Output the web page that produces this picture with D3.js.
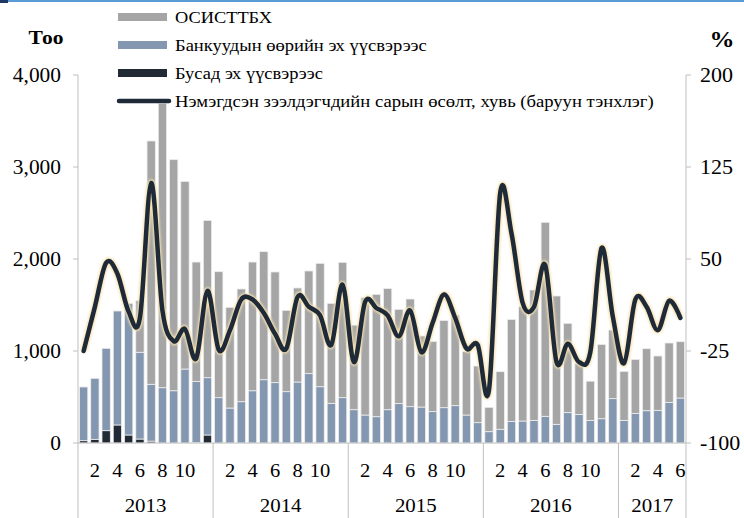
<!DOCTYPE html>
<html>
<head>
<meta charset="utf-8">
<script src="https://cdn.jsdelivr.net/npm/d3@7"></script>
<style>
  body { margin: 0; background: #fff; }
  svg { display: block; }
</style>
</head>
<body>
<div id="chart"></div>
<script>
// categories
const years = ["2013", "2014", "2015", "2016", "2017"];
const monthsPerYear = [12, 12, 12, 12, 6];

// bar totals (top of the stack), top of the blue part, and the dark part
const totalTop = [
  609, 703, 1029, 1435, 1518, 1547, 3283, 3692, 3080, 2844, 1967, 2420,
  1862, 1475, 1674, 1967, 2080, 1859, 1442, 1685, 1870, 1953, 1518, 1964,
  1281, 1580, 1616, 1680, 1453, 1565, 1163, 1105, 1332, 1391, 993, 837,
  388, 775, 1344, 1482, 1663, 2399, 1598, 1301, 866, 672, 1072, 1228,
  779, 909, 1025, 946, 1087, 1101
];
const blueTop = [
  609, 703, 1029, 1435, 1518, 986, 638, 601, 568, 804, 670, 710,
  493, 380, 449, 568, 688, 656, 558, 663, 754, 612, 431, 493,
  362, 304, 286, 362, 428, 395, 391, 341, 384, 406, 304, 221,
  123, 149, 235, 239, 246, 290, 203, 330, 310, 246, 264, 482,
  246, 322, 351, 355, 442, 489
];
const other = [
  25, 40, 134, 196, 87, 43, 20, 0, 0, 0, 5, 87,
  0, 0, 0, 0, 0, 0, 0, 0, 0, 0, 0, 0,
  0, 0, 0, 0, 0, 0, 0, 0, 0, 0, 0, 0,
  0, 0, 0, 0, 0, 0, 0, 0, 0, 0, 0, 0,
  0, 0, 0, 0, 0, 0
];
// monthly growth of new borrowers, % (right axis)
const growth = [
  -25, 11, 47, 38, 7, 2, 112, 8, -17, -7, -31, 24,
  -24, -8, 17, 17, 6, -11, -23, 19, 11, 4, -20, 29,
  -34, 15, 10, 4, -13, 8, -26, -2, 21, 2, -23, -20,
  -57, 104, 71, 14, 11, 45, -34, -19, -34, -26, 59, 3,
  -35, 17, 11, -8, 16, 2
];

const leftTicks = [0, 1000, 2000, 3000, 4000];
const rightTicks = [-100, -25, 50, 125, 200];
const monthTicks = [2, 4, 6, 8, 10];
const legendLabels = [
  "ОСИСТТБХ",
  "Банкуудын өөрийн эх үүсвэрээс",
  "Бусад эх үүсвэрээс",
  "Нэмэгдсэн зээлдэгчдийн сарын өсөлт, хувь (баруун тэнхлэг)"
];

// build the table
const months = [];
years.forEach((yr, yi) => {
  for (let m = 1; m <= monthsPerYear[yi]; m++) months.push({ year: yr, month: m });
});
const data = months.map((d, i) => ({
  key: d.year + "-" + d.month,
  year: d.year,
  month: d.month,
  other: other[i],
  bank: blueTop[i] - other[i],
  osis: totalTop[i] - blueTop[i],
  growth: growth[i]
}));

const W = 744, H = 518;
const plotLeft = 78, plotRight = 686, plotTop = 75, plotBottom = 443;
const colors = { osis: "#a5a5a5", bank: "#8497b1", other: "#222a35" };
const axisColor = "#bfbfbf";
const fontFamily = "'Liberation Serif', 'Times New Roman', Tinos, serif";

const svg = d3.select("#chart").append("svg")
  .attr("width", W).attr("height", H);

// thin header strip at the very top
svg.append("rect").attr("x", 0).attr("y", 0).attr("width", W).attr("height", 2).attr("fill", "#5b9bd5");
svg.append("rect").attr("x", 0).attr("y", 0).attr("width", 8).attr("height", 3).attr("fill", "#1f3864");

const x = d3.scaleBand()
  .domain(data.map(d => d.key))
  .range([plotLeft, plotRight])
  .paddingInner(0.26)
  .paddingOuter(0.13);

const y = d3.scaleLinear().domain([0, 4000]).range([plotBottom, plotTop]);
const y2 = d3.scaleLinear().domain([-100, 200]).range([plotBottom, plotTop]);

// text helper; the reference text is a bit wide, so stretch it horizontally
// (sx = fixed factor, or fitW = width to fit the text into)
function label(g, tx, ty, str, size, anchor, weight, sx, fitW) {
  const t = g.append("text")
    .attr("text-anchor", anchor || "start")
    .style("font-family", fontFamily)
    .style("font-size", size + "px")
    .style("font-weight", weight || "normal")
    .attr("fill", "#000")
    .text(str);
  let s = sx || 1.08;
  if (fitW) s = fitW / t.node().getComputedTextLength();
  t.attr("transform", "translate(" + tx + "," + ty + ") scale(" + s + ",1)");
  return t;
}

// left axis
const gl = svg.append("g");
gl.append("line").attr("x1", plotLeft).attr("x2", plotLeft).attr("y1", y(4000)).attr("y2", plotBottom)
  .attr("stroke", axisColor);
leftTicks.forEach(t => {
  gl.append("line").attr("x1", plotLeft - 5).attr("x2", plotLeft).attr("y1", y(t)).attr("y2", y(t))
    .attr("stroke", axisColor);
  label(gl, 61, y(t) + 7, d3.format(",")(t), 20, "end", "normal", 1.07);
});

// right axis
const gr = svg.append("g");
gr.append("line").attr("x1", plotRight).attr("x2", plotRight).attr("y1", y2(200)).attr("y2", plotBottom)
  .attr("stroke", axisColor);
rightTicks.forEach(t => {
  gr.append("line").attr("x1", plotRight).attr("x2", plotRight + 5).attr("y1", y2(t)).attr("y2", y2(t))
    .attr("stroke", axisColor);
  label(gr, 700, y2(t) + 7, String(t), 20, "start", "normal", 1.1);
});

// titles
label(svg, 46, 44, "Тоо", 19, "middle", "bold", null, 35);
label(svg, 722, 47, "%", 23, "middle", "bold", null, 25);

// stacked bars
const stack = d3.stack().keys(["other", "bank", "osis"]);
const series = stack(data);

svg.append("g").selectAll("g")
  .data(series)
  .join("g")
  .attr("fill", s => colors[s.key])
  .selectAll("rect")
  .data(s => s.filter(d => d[1] - d[0] > 0))
  .join("rect")
  .attr("x", d => x(d.data.key))
  .attr("y", d => y(d[1]))
  .attr("width", x.bandwidth())
  .attr("height", d => y(d[0]) - y(d[1]))
  .attr("stroke", "#eeeeee")
  .attr("stroke-width", 0.8);

// x axis baseline and category dividers
const gx = svg.append("g");
gx.append("line").attr("x1", plotLeft).attr("x2", plotRight).attr("y1", plotBottom).attr("y2", plotBottom)
  .attr("stroke", axisColor);

let start = 0;
const step = x.step();
years.forEach((yr, yi) => {
  const n = monthsPerYear[yi];
  const x0 = plotLeft + start * step;
  const x1 = plotLeft + (start + n) * step;
  gx.append("line").attr("x1", x0).attr("x2", x0).attr("y1", plotBottom).attr("y2", H)
    .attr("stroke", axisColor);
  if (yi === years.length - 1) {
    gx.append("line").attr("x1", x1).attr("x2", x1).attr("y1", plotBottom).attr("y2", H)
      .attr("stroke", axisColor);
  }
  label(gx, (x0 + x1) / 2, 512, yr, 19, "middle", "normal", 1.1);
  start += n;
});

data.forEach(d => {
  if (monthTicks.includes(d.month)) {
    label(gx, x(d.key) + x.bandwidth() / 2, 477, String(d.month), 19, "middle", "normal", 1.08);
  }
});

// growth line with a soft yellow glow
const defs = svg.append("defs");
defs.append("filter").attr("id", "glow")
  .attr("x", "-10%").attr("y", "-10%").attr("width", "120%").attr("height", "120%")
  .append("feGaussianBlur").attr("stdDeviation", 1.2);

const line = d3.line()
  .x(d => x(d.key) + x.bandwidth() / 2)
  .y(d => y2(d.growth))
  .curve(d3.curveCardinal.tension(0));

svg.append("path").datum(data)
  .attr("d", line)
  .attr("fill", "none")
  .attr("stroke", "#f7e2b0")
  .attr("stroke-width", 7)
  .attr("stroke-linejoin", "round")
  .attr("filter", "url(#glow)");

svg.append("path").datum(data)
  .attr("d", line)
  .attr("fill", "none")
  .attr("stroke", "#1f2a38")
  .attr("stroke-width", 4.5)
  .attr("stroke-linejoin", "round")
  .attr("stroke-linecap", "round");

// legend
const legend = svg.append("g");
const legendY = [17, 45, 73, 101];
const legendW = [97, 252, 148, 479];
const swatchColors = [colors.osis, colors.bank, colors.other];
legendLabels.forEach((txt, i) => {
  if (i < 3) {
    legend.append("rect")
      .attr("x", 118).attr("y", legendY[i] - 4)
      .attr("width", 49).attr("height", 8)
      .attr("fill", swatchColors[i]);
  } else {
    legend.append("line")
      .attr("x1", 119).attr("x2", 169).attr("y1", legendY[i]).attr("y2", legendY[i])
      .attr("stroke", "#1f2a38").attr("stroke-width", 4.5).attr("stroke-linecap", "round");
  }
  label(legend, 175, legendY[i] + 6, txt, 16, "start", "normal", null, legendW[i]);
});
</script>
</body>
</html>
